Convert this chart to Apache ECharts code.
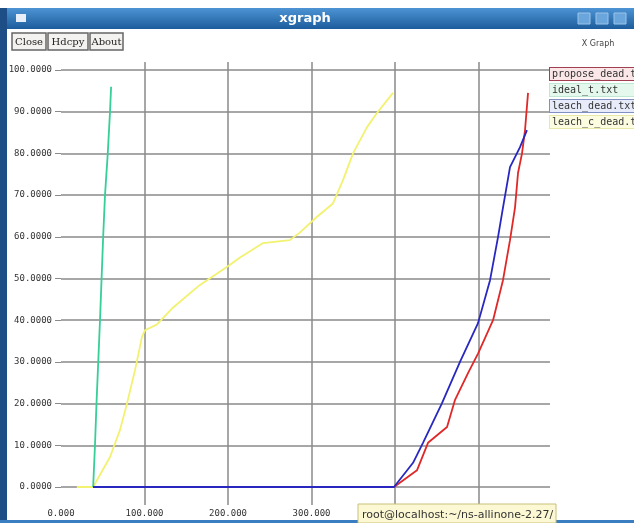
<!DOCTYPE html>
<html><head><meta charset="utf-8">
<script src="https://cdn.jsdelivr.net/npm/echarts@6/dist/echarts.min.js"></script>
<style>html,body{margin:0;padding:0;background:#fff;}#c{width:634px;height:523px;}</style>
</head><body><div id="c"></div>
<script>
// ---- data ----
const seriesNames = ['propose_dead.txt', 'ideal_t.txt', 'leach_dead.txt', 'leach_c_dead.txt'];
const proposeX = [38.5, 398.8, 426.3, 439.5, 462.3, 471.9, 487.4, 499.4, 517.4, 529.3, 537.7, 543.7, 547.3, 552.1, 555.7, 559.3];
const proposeY = [0, 0, 4, 10.6, 14.4, 20.9, 27.3, 32, 40, 49.6, 59.2, 67, 75.3, 80, 85.6, 94.5];
const idealX = [38.5, 40.7, 42.5, 46.7, 50.5, 52.7, 56, 58.7, 60];
const idealY = [0, 10, 20, 40, 60, 70, 80, 90, 96];
const leachX = [38.5, 398.8, 421.6, 433.5, 456, 477.8, 499.4, 513.8, 523.4, 529.3, 537.7, 549.7, 558];
const leachY = [0, 0, 5.8, 10.6, 20, 30, 39.3, 49.6, 60, 67, 76.7, 81.5, 85.6];
const leachCX = [19, 38.5, 58.7, 70.7, 79, 88.6, 97, 100.6, 115, 134, 166, 199, 214, 242, 274, 286, 306.6, 325.7, 337.7, 349.7, 366.5, 378.4, 397.6];
const leachCY = [0, 0, 7.2, 13.7, 20, 28, 36, 37.6, 39, 43, 48.4, 52.8, 55, 58.5, 59.2, 61, 64.8, 68, 73.6, 80, 86.3, 89.7, 94.5];
const xTicks = [0, 100, 200, 300, 400, 500];
const yTicks = [0, 10, 20, 30, 40, 50, 60, 70, 80, 90, 100];
const buttonLabels = ['Close', 'Hdcpy', 'About'];

const zip = (xs, ys) => xs.map((x, i) => [x, ys[i]]);
const colors = ['#e02828', '#36cf98', '#2828c0', '#f2f270'];
const legendBg = ['#fbe6e8', '#e4f8ee', '#e8ecfa', '#fcfce0'];
const legendBorder = ['#a04050', '#bfe8d4', '#8090c0', '#e8e8a8'];
const mono = 'DejaVu Sans Mono';

const chart = echarts.init(document.getElementById('c'), null, {renderer: 'canvas'});
const xMax = 585.6;
const btnX = [12, 48, 90], btnW = [34, 40, 33];
const graphics = [
  {type: 'rect', shape: {x: 0, y: 8, width: 634, height: 21}, z: 10,
   style: {fill: new echarts.graphic.LinearGradient(0, 0, 0, 1, [{offset: 0, color: '#4d94d4'}, {offset: 1, color: '#1c5c9c'}])}},
  {type: 'rect', shape: {x: 0, y: 8, width: 7, height: 515}, z: 10, style: {fill: '#1d4f86'}},
  {type: 'rect', shape: {x: 16, y: 14, width: 10, height: 8}, z: 11, style: {fill: '#e8eef8'}},
  {type: 'text', x: 305, y: 19, z: 11, style: {text: 'xgraph', fill: '#ffffff', font: 'bold 13px "DejaVu Sans"', align: 'center', verticalAlign: 'middle'}},
  {type: 'rect', shape: {x: 578, y: 13, width: 12, height: 11}, z: 11, style: {fill: '#6aa6dc', stroke: '#9cc4ea'}},
  {type: 'rect', shape: {x: 596, y: 13, width: 12, height: 11}, z: 11, style: {fill: '#6aa6dc', stroke: '#9cc4ea'}},
  {type: 'rect', shape: {x: 614, y: 13, width: 12, height: 11}, z: 11, style: {fill: '#6aa6dc', stroke: '#9cc4ea'}},
  {type: 'text', x: 598, y: 44, z: 11, style: {text: 'X Graph', fill: '#444', font: '8px "DejaVu Sans"', align: 'center', verticalAlign: 'middle'}},
  {type: 'rect', shape: {x: 0, y: 520, width: 634, height: 3}, z: 10, style: {fill: '#3a7dc0'}},
  {type: 'rect', shape: {x: 358, y: 504, width: 198, height: 19}, z: 12, style: {fill: '#fcf8d4', stroke: '#c8c078', lineWidth: 1}},
  {type: 'text', x: 362, y: 515, z: 13, style: {text: 'root@localhost:~/ns-allinone-2.27/', fill: '#333', font: '11px "DejaVu Sans"', verticalAlign: 'middle'}}
];
buttonLabels.forEach((t, i) => {
  graphics.push({type: 'rect', shape: {x: btnX[i], y: 33, width: btnW[i], height: 17}, z: 11, style: {fill: '#f4f2f0', stroke: '#666', lineWidth: 1.5}});
  graphics.push({type: 'text', x: btnX[i] + btnW[i] / 2, y: 42, z: 12, style: {text: t, fill: '#222', font: '10px "DejaVu Serif"', align: 'center', verticalAlign: 'middle'}});
});

const seriesData = [zip(proposeX, proposeY), zip(idealX, idealY), zip(leachX, leachY), zip(leachCX, leachCY)];
const order = [3, 1, 0, 2];
chart.setOption({
  animation: false,
  backgroundColor: '#ffffff',
  grid: [
    {left: 61, right: 84, top: 70, bottom: 36},
    {left: 61, right: 84, top: 62, bottom: 18}
  ],
  xAxis: [
    {gridIndex: 0, type: 'value', min: 0, max: xMax, interval: 100,
     axisLine: {show: false}, axisTick: {show: false}, splitLine: {show: false},
     axisLabel: {margin: 22, color: '#333', fontFamily: mono, fontSize: 9,
       formatter: v => xTicks.includes(v) ? v.toFixed(3) : '', showMaxLabel: false}},
    {gridIndex: 1, type: 'value', min: 0, max: xMax, interval: 100,
     axisLine: {show: false}, axisTick: {show: false}, axisLabel: {show: false},
     splitLine: {show: true, showMinLine: false, showMaxLine: false, lineStyle: {color: '#8a8a8a', width: 1.5}}}
  ],
  yAxis: [
    {gridIndex: 0, type: 'value', min: 0, max: 100, interval: 10,
     axisLine: {show: false}, axisTick: {show: true, length: 6, lineStyle: {color: '#8a8a8a'}},
     splitLine: {show: true, lineStyle: {color: '#8a8a8a', width: 1.5}},
     axisLabel: {margin: 9, color: '#333', fontFamily: mono, fontSize: 9,
       formatter: v => yTicks.includes(v) ? v.toFixed(4) : ''}},
    {gridIndex: 1, type: 'value', min: 0, max: 1, show: false}
  ],
  legend: {
    orient: 'vertical', left: 540, top: 62, itemGap: 2, icon: 'none', itemWidth: 0, itemHeight: 0,
    selectedMode: false,
    textStyle: {fontFamily: mono, fontSize: 10, color: '#333'},
    data: seriesNames.map((n, i) => ({name: n, textStyle: {backgroundColor: legendBg[i], borderColor: legendBorder[i], borderWidth: 1, padding: [1, 4, 1, 2], width: 90, overflow: 'none'}}))
  },
  series: order.map(i => ({
    name: seriesNames[i], type: 'line', xAxisIndex: 0, yAxisIndex: 0,
    data: seriesData[i], showSymbol: false, color: colors[i],
    lineStyle: {width: 1.8, color: colors[i]}
  })),
  graphic: graphics
});
</script></body></html>
